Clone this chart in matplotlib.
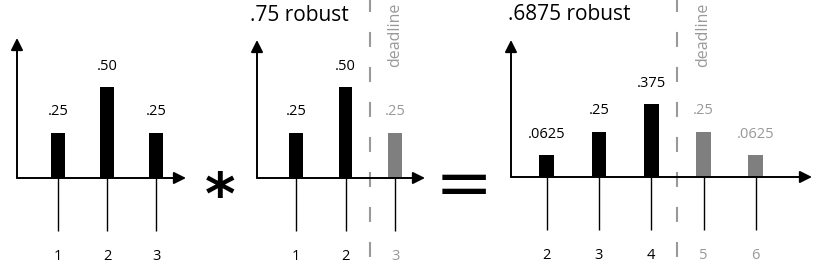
import matplotlib
matplotlib.use('Agg')
import matplotlib.pyplot as plt
from matplotlib.transforms import blended_transform_factory

plt.rcParams['font.family'] = ['Open Sans', 'DejaVu Sans']
plt.rcParams['lines.scale_dashes'] = False

# ---------------- data ----------------
p1_cats = [1, 2, 3]
p1_vals = [0.25, 0.50, 0.25]
p1_labels = ['.25', '.50', '.25']

p2_cats = [1, 2, 3]
p2_vals = [0.25, 0.50, 0.25]
p2_labels = ['.25', '.50', '.25']
p2_deadline = 2.5
p2_title = '.75 robust'

p3_cats = [2, 3, 4, 5, 6]
p3_vals = [0.0625, 0.25, 0.375, 0.25, 0.0625]
# drawn bar heights (the sketch is not to scale)
p3_heights = [0.12, 0.25, 0.40, 0.25, 0.12]
p3_labels = ['.0625', '.25', '.375', '.25', '.0625']
p3_deadline = 4.5
p3_title = '.6875 robust'

deadline_text = 'deadline'

# ---------------- style ----------------
W, H = 830, 267
BLACK = '#000000'
GRAY_BAR = '#7f7f7f'
GRAY_LINE = '#999999'
GRAY_TEXT = '#999999'
PX_PER_UNIT_Y = 182.0

fig = plt.figure(figsize=(W / 100, H / 100), dpi=100)


def make_axes(left, right, base, top, first_px, first_cat, spacing):
    ax = fig.add_axes([left / W, (H - base) / H, (right - left) / W, (base - top) / H])
    x0 = first_cat - (first_px - left) / spacing
    ax.set_xlim(x0, x0 + (right - left) / spacing)
    ax.set_ylim(0, (base - top) / PX_PER_UNIT_Y)
    ax.patch.set_alpha(0)
    for s in ax.spines.values():
        s.set_visible(False)
    return ax


def draw_panel(ax, cats, heights, labels, deadline=None):
    after = [deadline is not None and c > deadline for c in cats]
    colors = [GRAY_BAR if a else BLACK for a in after]
    ax.bar(cats, heights, width=0.28, color=colors, zorder=3)
    for c, h, lab, a in zip(cats, heights, labels, after):
        ax.annotate(lab, (c, h), xytext=(0, 12.5), textcoords='offset points',
                    ha='center', va='baseline', fontsize=10.5,
                    color=GRAY_TEXT if a else BLACK)
    ax.set_yticks([])
    ax.set_xticks(cats)
    ax.set_xticklabels([str(c) for c in cats])
    ax.tick_params(axis='x', direction='out', length=38, width=1.0, pad=13.0,
                   labelsize=10.5)
    for tick, a in zip(ax.xaxis.get_major_ticks(), after):
        tick.tick1line.set_color(GRAY_LINE if a else BLACK)
        tick.label1.set_color(GRAY_TEXT if a else BLACK)
    ap = dict(arrowstyle='-|>,head_length=0.6,head_width=0.3', color=BLACK,
              lw=1.4, shrinkA=0, shrinkB=0, mutation_scale=12)
    ax.annotate('', xy=(1, 0), xytext=(0, 0), xycoords='axes fraction',
                arrowprops=ap, annotation_clip=False, zorder=4)
    ax.annotate('', xy=(0, 1), xytext=(0, 0), xycoords='axes fraction',
                arrowprops=ap, annotation_clip=False, zorder=4)
    if deadline is not None:
        tr = blended_transform_factory(ax.transData, fig.transFigure)
        ln, = ax.plot([deadline, deadline], [1, 0], transform=tr, color=GRAY_LINE,
                      lw=1.5, clip_on=False, zorder=1)
        ln.set_linestyle((2.2, (10.8, 14.4)))
        first_after = [c for c, a in zip(cats, after) if a][0]
        ax.text(first_after, 1 - 3 / H, deadline_text, transform=tr, rotation=90,
                ha='center', va='top', fontsize=11.5, color=GRAY_TEXT)


ax1 = make_axes(17, 186, 178, 38, 58, 1, 49.0)
draw_panel(ax1, p1_cats, p1_vals, p1_labels)

ax2 = make_axes(257, 425, 178, 40, 296, 1, 49.5)
draw_panel(ax2, p2_cats, p2_vals, p2_labels, p2_deadline)

ax3 = make_axes(511, 812, 177, 40, 546.6, 2, 52.3)
draw_panel(ax3, p3_cats, p3_heights, p3_labels, p3_deadline)

fig.text(250 / W, 1 - 21 / H, p2_title, fontsize=15, ha='left', va='baseline')
fig.text(508 / W, 1 - 20 / H, p3_title, fontsize=15, ha='left', va='baseline')

fig.text(220 / W, 1 - 214 / H, '*', fontsize=42, fontweight='bold',
         family=['DejaVu Sans'], ha='center', va='baseline')
fig.text(464 / W, 1 - 180 / H, '=', fontsize=50, family=['DejaVu Sans'],
         ha='center', va='center_baseline')

fig.savefig('out.png', dpi=100)
